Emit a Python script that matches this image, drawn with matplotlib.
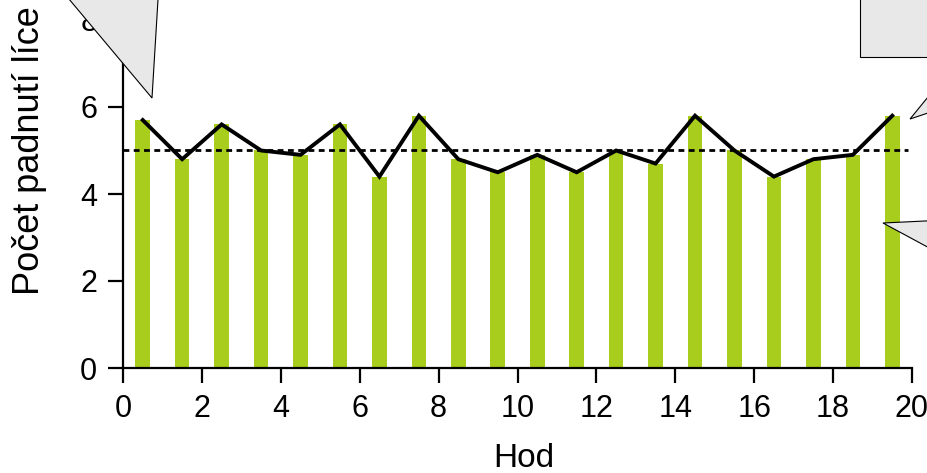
import matplotlib
matplotlib.use("Agg")
import matplotlib.pyplot as plt
from matplotlib.patches import Polygon, Rectangle

plt.rcParams['font.family'] = ['Liberation Sans', 'DejaVu Sans']

# Data
hod = [0.5, 1.5, 2.5, 3.5, 4.5, 5.5, 6.5, 7.5, 8.5, 9.5,
       10.5, 11.5, 12.5, 13.5, 14.5, 15.5, 16.5, 17.5, 18.5, 19.5]
lice = [5.7, 4.8, 5.6, 5.0, 4.9, 5.6, 4.4, 5.8, 4.8, 4.5,
        4.9, 4.5, 5.0, 4.7, 5.8, 5.0, 4.4, 4.8, 4.9, 5.8]
expected = 5.0
expected_span = [0, 19.9]
xticks = [0, 2, 4, 6, 8, 10, 12, 14, 16, 18, 20]
yticks = [0, 2, 4, 6, 8, 10]
xlabel = "Hod"
ylabel = "Počet padnutí líce"

W, H = 928, 473
fig = plt.figure(figsize=(W / 100, H / 100), dpi=100)
fig.patch.set_facecolor('white')

left_px, right_px, zero_px, unit_px = 123, 912, 368, 43.5
ax = fig.add_axes([left_px / W, (H - zero_px) / H,
                   (right_px - left_px) / W, 10 * unit_px / H])

ax.bar(hod, lice, width=0.37, color='#A9CD1C', zorder=2)
ax.plot(hod, lice, color='black', lw=2.8, zorder=4, solid_joinstyle='miter')
ax.hlines(expected, expected_span[0], expected_span[1], colors='black',
          lw=2.0, linestyles=(0, (2.1, 1.6)), zorder=3)

ax.set_xlim(0, 20)
ax.set_ylim(0, 10)
ax.set_xticks(xticks)
ax.set_yticks(yticks)
for s in ['top', 'right']:
    ax.spines[s].set_visible(False)
for s in ['left', 'bottom']:
    ax.spines[s].set_linewidth(1.6)
ax.tick_params(axis='both', length=10.5, width=1.6, labelsize=22, direction='out')
ax.tick_params(axis='x', pad=8)
ax.tick_params(axis='y', pad=8)
ax.set_xlabel(xlabel, fontsize=24)
ax.xaxis.set_label_coords(0.508, -0.172)
ax.set_ylabel(ylabel, fontsize=26)
ax.yaxis.set_label_coords(-0.096, 0.5)
ax.set_facecolor('white')


def px(points):
    return [(x / W, 1 - y / H) for x, y in points]


callout_kw = dict(facecolor='#E8E8E8', edgecolor='black', lw=0.8,
                  transform=fig.transFigure, zorder=5)
fig.add_artist(Polygon(px([(53, -20), (152, 98), (159.2, -20)]), closed=True, **callout_kw))
fig.add_artist(Rectangle((860 / W, 1 - 57 / H), 100 / W, 80 / H, **callout_kw))
fig.add_artist(Polygon(px([(910, 119), (946, 75), (946, 107)]), closed=True, **callout_kw))
fig.add_artist(Polygon(px([(883, 223), (946, 220), (946, 257)]), closed=True, **callout_kw))

fig.savefig('out.png', dpi=100)
